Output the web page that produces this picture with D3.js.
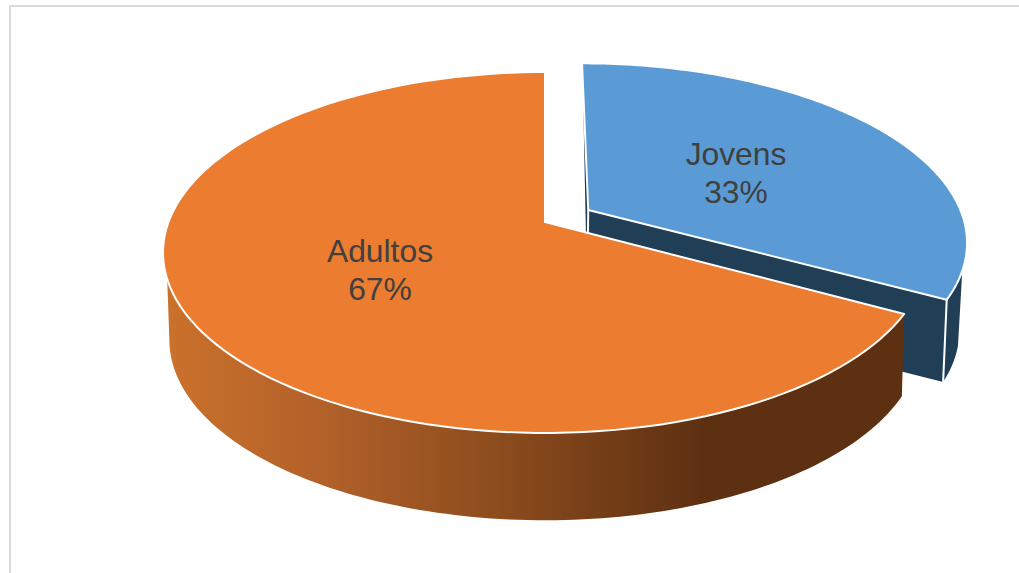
<!DOCTYPE html>
<html lang="pt">
<head>
<meta charset="utf-8">
<title>Jovens e Adultos</title>
<script src="https://cdn.jsdelivr.net/npm/d3@7"></script>
<style>
  html, body { margin: 0; padding: 0; background: #fff; }
  svg { display: block; }
  text { font-family: "Liberation Sans", Arial, sans-serif; font-size: 31.8px; fill: #404040; text-anchor: middle; }
</style>
</head>
<body>
<svg id="chart" width="1019" height="573"></svg>
<script>
// Data
const categories = ["Jovens", "Adultos"];
const shares = [33, 67];

const WIDTH = 1019, HEIGHT = 573;
const svg = d3.select("#chart").attr("viewBox", [0, 0, WIDTH, HEIGHT]);

// Perspective view of the pie: a plane seen from above, nearer at the front
const centre = { x: 545, y: 222 };
const topPlane = { a: 376.5, b: 175.3, k: 0.169, dy: 0 };
const basePlane = { a: 368, b: 173, k: 0.2, dy: 82 };
const explode = [0.135, 0];

function project(plane, angle, radius, offsetAngle, offset) {
  const px = radius * Math.sin(angle) + offset * Math.sin(offsetAngle);
  const py = -radius * Math.cos(angle) - offset * Math.cos(offsetAngle);
  const w = 1 - plane.k * py;
  return [centre.x + plane.a * px / w, centre.y + plane.dy + plane.b * py / w];
}

const arcs = d3.pie().sort(null).value(d => d)(shares);
const mid = d => (d.startAngle + d.endAngle) / 2;
const line = d3.line();

function rim(plane, a0, a1, d, off) {
  return d3.range(0, 121).map(i => project(plane, a0 + (a1 - a0) * i / 120, 1, mid(d), off));
}

const [young, adult] = arcs;
const youngOff = explode[0], adultOff = explode[1];
const pt = (plane, ang, r, d, off) => project(plane, ang, r, mid(d), off);

// Frame of the chart area
svg.append("path")
  .attr("d", line([[10, HEIGHT], [10, 6], [WIDTH, 6]]))
  .attr("fill", "none").attr("stroke", "#d9d9d9").attr("stroke-width", 2);

// Horizontal shading of the long outer wall
const defs = svg.append("defs");
const shade = defs.append("linearGradient")
  .attr("id", "wallShade").attr("gradientUnits", "userSpaceOnUse")
  .attr("x1", 163).attr("x2", 910).attr("y1", 0).attr("y2", 0);
[[0, "#cb722b"], [0.2, "#b4622a"], [0.45, "#8c4c1d"], [0.72, "#5e3012"], [1, "#5e3012"]]
  .forEach(([o, c]) => shade.append("stop").attr("offset", o).attr("stop-color", c));

const edge = { stroke: "#fff", width: 2 };
const dark = "#213e57";

// Jovens: solid body behind the other slice
const youngGroup = svg.append("g");
const yA = young.startAngle, yB = young.endAngle;

// thin sliver of the rear cut face
youngGroup.append("path")
  .attr("d", line([pt(topPlane, yA, 0.88, young, youngOff), pt(topPlane, yA, 0, young, youngOff), pt(basePlane, yA, 0, young, youngOff)]) + "Z")
  .attr("fill", dark);

// front cut face
youngGroup.append("path")
  .attr("d", line([pt(topPlane, yB, 0, young, youngOff), pt(topPlane, yB, 1, young, youngOff), pt(basePlane, yB, 1, young, youngOff), pt(basePlane, yB, 0, young, youngOff)]) + "Z")
  .attr("fill", dark);

// outer wall up to the right-hand silhouette
const silhouetteTop = yB - 0.42, silhouetteBase = yB - 0.2;
youngGroup.append("path")
  .attr("d", line([...rim(topPlane, yB, silhouetteTop, young, youngOff), ...rim(basePlane, silhouetteBase, yB, young, youngOff)]) + "Z")
  .attr("fill", dark);

// corner and cut edges
youngGroup.append("path")
  .attr("d", line([pt(topPlane, yB, 1, young, youngOff), pt(basePlane, yB, 1, young, youngOff)]))
  .attr("fill", "none").attr("stroke", edge.stroke).attr("stroke-width", edge.width);
youngGroup.append("path")
  .attr("d", line([pt(topPlane, yA, 0, young, youngOff), pt(basePlane, yA, 0, young, youngOff)]))
  .attr("fill", "none").attr("stroke", edge.stroke).attr("stroke-width", edge.width);

// top face
youngGroup.append("path")
  .attr("d", line([pt(topPlane, yA, 0, young, youngOff), ...rim(topPlane, yA, yB, young, youngOff)]) + "Z")
  .attr("fill", "#5b9bd5").attr("stroke", edge.stroke).attr("stroke-width", edge.width).attr("stroke-linejoin", "round");

// Adultos: outer wall, then top face
const aA = adult.startAngle, aB = adult.endAngle;
const wallTopEnd = (252 * Math.PI) / 180, wallBaseEnd = (257 * Math.PI) / 180;
const adultGroup = svg.append("g");
adultGroup.append("path")
  .attr("d", line([...rim(topPlane, aA, wallTopEnd, adult, adultOff), ...rim(basePlane, wallBaseEnd, aA, adult, adultOff)]) + "Z")
  .attr("fill", "url(#wallShade)");
adultGroup.append("path")
  .attr("d", line([pt(topPlane, aA, 0, adult, adultOff), ...rim(topPlane, aA, aB, adult, adultOff)]) + "Z")
  .attr("fill", "#eb7c30").attr("stroke", edge.stroke).attr("stroke-width", edge.width).attr("stroke-linejoin", "round");

// Labels: name above share
const labelAnchors = [[736, 165], [380, 262]];
categories.forEach((name, i) => {
  const [x, y] = labelAnchors[i];
  const t = svg.append("text").attr("x", x).attr("y", y);
  t.append("tspan").attr("x", x).text(name);
  t.append("tspan").attr("x", x).attr("dy", 37.5).text(shares[i] + "%");
});
</script>
</body>
</html>
